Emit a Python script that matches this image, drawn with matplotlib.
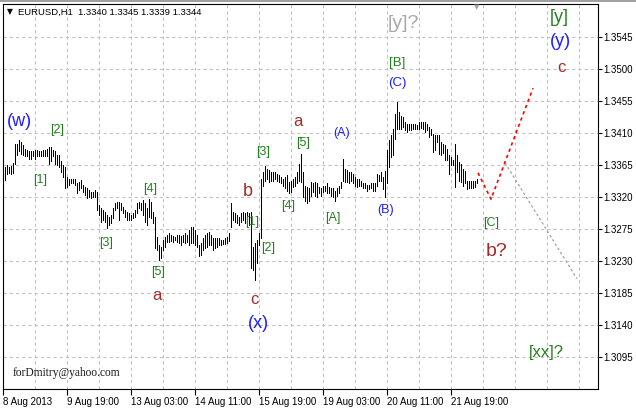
import numpy as np
import matplotlib
matplotlib.use("Agg")
import matplotlib.pyplot as plt

plt.rcParams['font.family'] = ['Liberation Sans', 'DejaVu Sans']

# EURUSD H1 bars (8 Aug 12:00 .. 22 Aug 08:00), high / low per bar
bar_high = [
    1.3362, 1.3365, 1.3362, 1.3363, 1.3368, 1.3394, 1.3395, 1.3400, 1.3398, 1.3393,
    1.3388, 1.3386, 1.3384, 1.3384, 1.3384, 1.3386, 1.3386, 1.3384, 1.3385, 1.3386,
    1.3386, 1.3388, 1.3391, 1.3390, 1.3386, 1.3384, 1.3379, 1.3379, 1.3370, 1.3365,
    1.3362, 1.3348, 1.3346, 1.3346, 1.3346, 1.3346, 1.3339, 1.3341, 1.3344, 1.3337,
    1.3334, 1.3332, 1.3330, 1.3327, 1.3327, 1.3330, 1.3327, 1.3309, 1.3304, 1.3302,
    1.3299, 1.3294, 1.3292, 1.3294, 1.3304, 1.3311, 1.3313, 1.3313, 1.3311, 1.3306,
    1.3302, 1.3299, 1.3297, 1.3295, 1.3297, 1.3302, 1.3311, 1.3313, 1.3312, 1.3316,
    1.3311, 1.3304, 1.3317, 1.3313, 1.3299, 1.3292, 1.3264, 1.3252, 1.3250, 1.3259,
    1.3264, 1.3266, 1.3269, 1.3266, 1.3265, 1.3264, 1.3266, 1.3266, 1.3265, 1.3266,
    1.3269, 1.3266, 1.3273, 1.3278, 1.3278, 1.3273, 1.3266, 1.3252, 1.3255, 1.3262,
    1.3266, 1.3269, 1.3271, 1.3266, 1.3262, 1.3262, 1.3262, 1.3262, 1.3260, 1.3260,
    1.3263, 1.3264, 1.3269,
    1.3311, 1.3299, 1.3297, 1.3295, 1.3292, 1.3297, 1.3299, 1.3297, 1.3299, 1.3297,
    1.3299, 1.3250, 1.3255, 1.3260, 1.3269,
    1.3346, 1.3355, 1.3363, 1.3360, 1.3358, 1.3355, 1.3355, 1.3355, 1.3353, 1.3351,
    1.3348, 1.3346, 1.3348, 1.3351, 1.3341, 1.3343, 1.3346, 1.3348, 1.3355, 1.3367,
    1.3381, 1.3355, 1.3336, 1.3334, 1.3332, 1.3341, 1.3339, 1.3341, 1.3339, 1.3334,
    1.3332, 1.3336, 1.3336, 1.3339, 1.3334, 1.3332, 1.3332, 1.3329, 1.3332, 1.3336,
    1.3341, 1.3374, 1.3360, 1.3358, 1.3355, 1.3355, 1.3353, 1.3348, 1.3346, 1.3346,
    1.3342, 1.3340, 1.3339, 1.3337, 1.3337, 1.3340, 1.3339, 1.3339, 1.3353, 1.3351,
    1.3355, 1.3348, 1.3357, 1.3386, 1.3400, 1.3407, 1.3416, 1.3437, 1.3453, 1.3440,
    1.3434, 1.3433, 1.3425, 1.3423, 1.3422, 1.3422, 1.3422, 1.3422, 1.3421, 1.3426,
    1.3426, 1.3425, 1.3425, 1.3422, 1.3418, 1.3416, 1.3409, 1.3407, 1.3407, 1.3407,
    1.3397, 1.3394, 1.3393, 1.3388, 1.3379, 1.3376, 1.3372, 1.3395, 1.3379, 1.3369,
    1.3367, 1.3360, 1.3357, 1.3343, 1.3342, 1.3342, 1.3343, 1.3342, 1.3345,
]
bar_low = [
    1.3344, 1.3353, 1.3354, 1.3352, 1.3354, 1.3367, 1.3379, 1.3384, 1.3381, 1.3379,
    1.3377, 1.3377, 1.3374, 1.3374, 1.3377, 1.3374, 1.3377, 1.3377, 1.3377, 1.3377,
    1.3377, 1.3377, 1.3367, 1.3370, 1.3377, 1.3367, 1.3365, 1.3362, 1.3355, 1.3348,
    1.3332, 1.3334, 1.3337, 1.3339, 1.3339, 1.3337, 1.3325, 1.3330, 1.3332, 1.3327,
    1.3323, 1.3318, 1.3320, 1.3318, 1.3320, 1.3320, 1.3302, 1.3294, 1.3285, 1.3287,
    1.3285, 1.3276, 1.3280, 1.3283, 1.3290, 1.3302, 1.3304, 1.3288, 1.3302, 1.3297,
    1.3292, 1.3288, 1.3288, 1.3287, 1.3290, 1.3292, 1.3297, 1.3304, 1.3302, 1.3295,
    1.3285, 1.3280, 1.3292, 1.3290, 1.3283, 1.3248, 1.3245, 1.3231, 1.3234, 1.3245,
    1.3250, 1.3257, 1.3257, 1.3258, 1.3257, 1.3259, 1.3257, 1.3255, 1.3252, 1.3257,
    1.3255, 1.3257, 1.3252, 1.3255, 1.3255, 1.3252, 1.3250, 1.3237, 1.3238, 1.3245,
    1.3248, 1.3250, 1.3252, 1.3252, 1.3245, 1.3248, 1.3250, 1.3252, 1.3252, 1.3254,
    1.3254, 1.3256, 1.3258,
    1.3278, 1.3288, 1.3285, 1.3283, 1.3281, 1.3285, 1.3288, 1.3283, 1.3285, 1.3281,
    1.3220, 1.3217, 1.3203, 1.3227, 1.3253,
    1.3262, 1.3336, 1.3343, 1.3346, 1.3341, 1.3343, 1.3343, 1.3346, 1.3343, 1.3341,
    1.3339, 1.3336, 1.3332, 1.3329, 1.3325, 1.3327, 1.3334, 1.3336, 1.3339, 1.3343,
    1.3341, 1.3320, 1.3315, 1.3311, 1.3315, 1.3322, 1.3327, 1.3322, 1.3320, 1.3325,
    1.3322, 1.3327, 1.3329, 1.3325, 1.3325, 1.3322, 1.3320, 1.3315, 1.3322, 1.3325,
    1.3332, 1.3343, 1.3341, 1.3341, 1.3339, 1.3343, 1.3339, 1.3336, 1.3334, 1.3336,
    1.3335, 1.3332, 1.3333, 1.3329, 1.3331, 1.3332, 1.3329, 1.3328, 1.3336, 1.3342,
    1.3343, 1.3331, 1.3320, 1.3339, 1.3362, 1.3376, 1.3379, 1.3402, 1.3416, 1.3416,
    1.3416, 1.3418, 1.3414, 1.3412, 1.3414, 1.3414, 1.3415, 1.3415, 1.3415, 1.3416,
    1.3417, 1.3416, 1.3411, 1.3414, 1.3404, 1.3407, 1.3383, 1.3386, 1.3397, 1.3381,
    1.3379, 1.3382, 1.3372, 1.3372, 1.3353, 1.3365, 1.3365, 1.3334, 1.3355, 1.3343,
    1.3341, 1.3336, 1.3339, 1.3331, 1.3332, 1.3333, 1.3333, 1.3334, 1.3339,
]

# forecast paths (bar index, price)
proj_red_x = [236.5, 243, 264]
proj_red_y = [1.3354, 1.3317, 1.3473]
proj_gray_x = [250, 286]
proj_gray_y = [1.3368, 1.3205]

price_ticks = [1.3095, 1.3140, 1.3185, 1.3230, 1.3275, 1.3320,
               1.3365, 1.3410, 1.3455, 1.3500, 1.3545]
time_ticks = [-1, 31, 63, 95, 127, 159, 191, 223]
time_labels = ["8 Aug 2013", "9 Aug 19:00", "13 Aug 03:00", "14 Aug 11:00",
               "15 Aug 19:00", "19 Aug 03:00", "20 Aug 11:00", "21 Aug 19:00"]
grid_x = list(range(15, 297, 16))

BLUE = "#1E1EFF"
BROWN = "#A52A2A"
GREEN = "#23801F"
GRAY = "#A8A8A8"

# wave labels: text, x px, y px, colour, size
wave_labels = [
    ("(w)", 19, 121, BLUE, 13), ("[2]", 57, 130, GREEN, 9), ("[1]", 40, 180, GREEN, 9),
    ("[3]", 106, 243, GREEN, 9), ("[4]", 150, 189, GREEN, 9), ("[5]", 158, 272, GREEN, 9),
    ("a", 157, 296, BROWN, 12), ("b", 248, 191, BROWN, 13), ("[1]", 252, 222, GREEN, 9),
    ("[2]", 268, 248, GREEN, 9), ("c", 254, 299, BROWN, 12), ("(x)", 258, 323, BLUE, 13),
    ("[3]", 263, 152, GREEN, 9), ("a", 298, 122, BROWN, 12), ("[5]", 303, 143, GREEN, 9),
    ("[4]", 288, 206, GREEN, 9), ("(A)", 342, 133, BLUE, 9), ("[A]", 333, 218, GREEN, 9),
    ("(B)", 386, 210, BLUE, 9), ("[y]?", 403, 23, GRAY, 14), ("[B]", 397, 63, GREEN, 9.5),
    ("(C)", 397, 83, BLUE, 9.5), ("[C]", 491, 223, GREEN, 9), ("b?", 497, 252, BROWN, 14),
    ("[y]", 559, 18, GREEN, 13), ("(y)", 560, 42, BLUE, 13), ("c", 561, 67, BROWN, 12),
    ("[xx]?", 546, 353, GREEN, 12),
]

W, H = 636, 408
fig = plt.figure(figsize=(W / 100, H / 100), dpi=100)
ax = fig.add_axes([3 / W, 19 / H, 595 / W, 385 / H])

# grid
for p in price_ticks:
    ax.axhline(p, color="#C0C0C0", lw=0.75, ls=(0, (3, 3)), zorder=0)
for gx in grid_x:
    ax.axvline(gx, color="#C0C0C0", lw=0.75, ls=(0, (3, 3)), zorder=0)

x = np.arange(len(bar_high))
ax.vlines(x, bar_low, bar_high, colors="black", linewidth=0.5, antialiased=False, zorder=3)

ax.plot(proj_red_x, proj_red_y, color="red", lw=1.2, ls=(0, (2, 2)), zorder=4)
ax.plot(proj_gray_x, proj_gray_y, color="#A0A0A0", lw=0.9, ls=(0, (2, 2)), zorder=2)

ax.set_xlim(-1, 296.5)
ax.set_ylim(1.30500, 1.35914)

ax.yaxis.tick_right()
ax.set_yticks(price_ticks)
ax.set_yticklabels([f"{p:.4f}" for p in price_ticks])
ax.tick_params(axis="y", direction="out", length=3, width=0.8, pad=1, labelsize=7)
ax.set_xticks(time_ticks)
ax.set_xticklabels(time_labels)
ax.tick_params(axis="x", direction="out", length=4, width=0.8, pad=2, labelsize=7)
for lab in ax.get_xticklabels():
    lab.set_ha("left")
for sp in ax.spines.values():
    sp.set_color("black")
    sp.set_linewidth(0.8)

for txt, px, py, col, size in wave_labels:
    fig.text(px / W, 1 - py / H, txt, color=col, fontsize=size, ha="center", va="center")

fig.text(7 / W, 1 - 12 / H, "\u25bc", fontsize=5.5, color="black", va="center", family=["DejaVu Sans"])
fig.text(18 / W, 1 - 12 / H, "EURUSD,H1  1.3340 1.3345 1.3339 1.3344", fontsize=6.8, va="center")
fig.text(477 / W, 1 - 7 / H, "\u25bc", fontsize=5, color="#A0A0A0", ha="center", va="center", family=["DejaVu Sans"])
fig.text(13 / W, 1 - 373 / H, "forDmitry@yahoo.com", fontsize=8.3, color="#1A1A1A",
         va="center", family=["Liberation Serif", "DejaVu Serif"])

fig.add_artist(plt.Rectangle((0, 1 - 2 / H), 1, 2 / H, transform=fig.transFigure,
                             color="#A0A0A0", lw=0))

fig.savefig("out.png", dpi=100)
